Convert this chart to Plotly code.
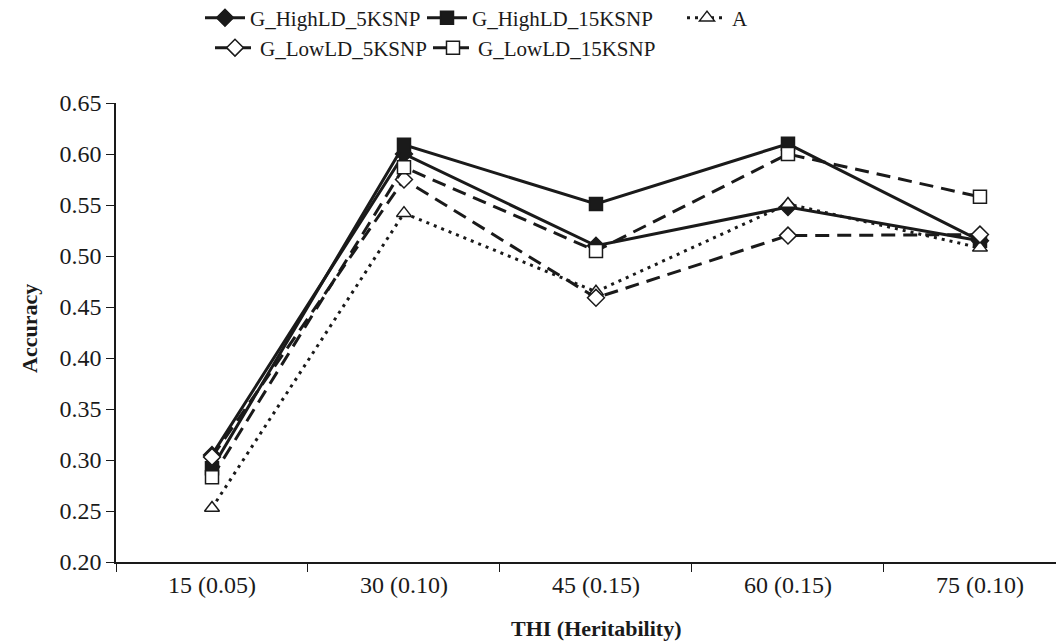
import plotly.graph_objects as go

categories = ["15 (0.05)", "30 (0.10)", "45 (0.15)", "60 (0.15)", "75 (0.10)"]
g_high_5k = [0.305, 0.600, 0.510, 0.548, 0.515]
g_high_15k = [0.292, 0.609, 0.551, 0.610, 0.515]
a_vals = [0.253, 0.542, 0.465, 0.551, 0.508]
g_low_5k = [0.303, 0.575, 0.459, 0.520, 0.521]
g_low_15k = [0.283, 0.587, 0.505, 0.600, 0.558]
y_ticks = [0.20, 0.25, 0.30, 0.35, 0.40, 0.45, 0.50, 0.55, 0.60, 0.65]

FONT = "Liberation Serif"
BLACK = "#1a1a1a"

series = [
    ("G_HighLD_5KSNP", g_high_5k, "solid", "diamond", BLACK, "legend"),
    ("G_HighLD_15KSNP", g_high_15k, "solid", "square", BLACK, "legend2"),
    ("A", a_vals, "3px,5px", "triangle-up", "white", "legend3"),
    ("G_LowLD_5KSNP", g_low_5k, "14px,8px", "diamond", "white", "legend4"),
    ("G_LowLD_15KSNP", g_low_15k, "14px,8px", "square", "white", "legend5"),
]
# legend anchor positions (container pixels: left x, row)
leg_pos = {"legend": (200, 0), "legend2": (422, 0), "legend3": (682, 0),
           "legend4": (210, 1), "legend5": (428, 1)}
row_y = {0: 18, 1: 48}

fig = go.Figure()
for name, vals, dash, sym, fill, leg in series:
    fig.add_trace(go.Scatter(
        x=categories, y=vals, name=name, mode="lines+markers",
        line=dict(color=BLACK, width=3, dash=dash),
        marker=dict(symbol=sym, size=13,
                    color=fill, line=dict(color=BLACK, width=1.5)),
        legend=leg,
    ))

W, H = 1056, 644
legends = {}
for key, (px, row) in leg_pos.items():
    legends[key] = dict(
        orientation="h", xref="container", yref="container",
        x=px / W, y=1 - row_y[row] / H,
        xanchor="left", yanchor="middle",
        font=dict(family=FONT, size=21, color=BLACK),
        bgcolor="rgba(0,0,0,0)", itemwidth=40,
    )

fig.update_layout(
    width=W, height=H,
    margin=dict(l=116, r=0, t=103, b=82),
    paper_bgcolor="white", plot_bgcolor="white",
    font=dict(family=FONT, size=24, color=BLACK),
    showlegend=True,
    **legends,
    xaxis=dict(
        type="category", range=[-0.5, 4.396],
        showline=True, linecolor=BLACK, linewidth=1.5,
        ticks="outside", tickson="boundaries", ticklen=8, tickcolor=BLACK,
        tickfont=dict(family=FONT, size=24), showgrid=False, zeroline=False,
    ),
    yaxis=dict(
        range=[0.20, 0.65], tickvals=y_ticks,
        ticktext=[f"{v:.2f}" for v in y_ticks],
        showline=True, linecolor=BLACK, linewidth=1.5,
        ticks="outside", ticklen=8, tickcolor=BLACK,
        tickfont=dict(family=FONT, size=24), showgrid=False, zeroline=False,
    ),
    annotations=[
        dict(text="<b>THI (Heritability)</b>", x=2, xref="x", y=-0.1755, yref="paper",
             yanchor="bottom", xanchor="center", showarrow=False,
             font=dict(family=FONT, size=22, color=BLACK)),
        dict(text="<b>Accuracy</b>", x=-0.0915, xref="paper", y=0.51, yref="paper",
             textangle=-90, xanchor="center", yanchor="middle", showarrow=False,
             font=dict(family=FONT, size=22, color=BLACK)),
    ],
)

fig.write_html("out.html")
